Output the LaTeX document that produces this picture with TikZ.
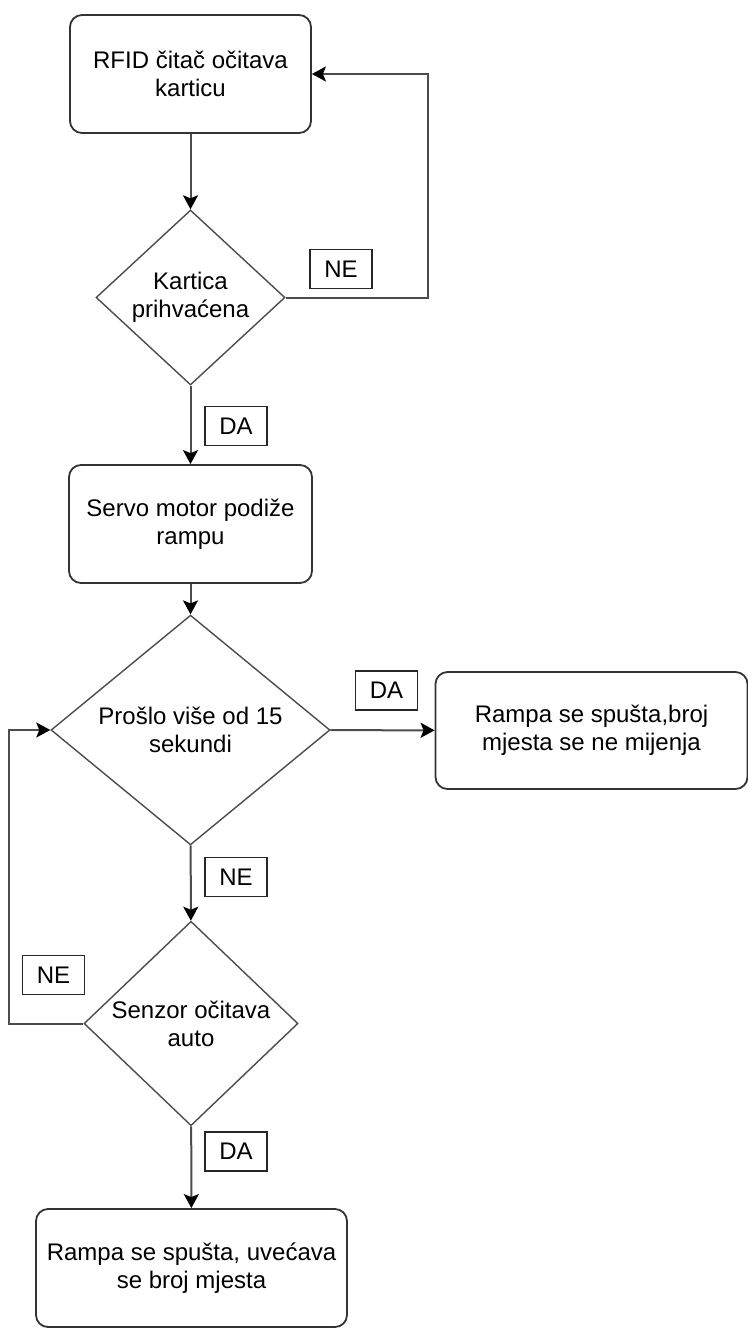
\documentclass[tikz,border=0pt]{standalone}
\usepackage{fontspec}
\setmainfont{Liberation Sans}
\usepackage{tikz}
\usetikzlibrary{positioning}
\usetikzlibrary{shapes.geometric}
\usetikzlibrary{arrows.meta}
\usepackage{xcolor}

\begin{document}
\begin{tikzpicture}[x=0.5pt, y=-0.5pt,
  font=\fontsize{12}{14}\selectfont,
  korak/.style={draw=black!80, line width=0.9pt, rounded corners=6pt, align=center, inner sep=0pt},
  odluka/.style={draw=black!70, line width=0.7pt, diamond, align=center, inner sep=0pt},
  oznaka/.style={draw=black!85, line width=0.9pt, minimum width=31pt, minimum height=19.5pt, inner sep=0pt},
  veza/.style={draw=black!70, line width=1pt, -{Stealth[length=7pt, width=7.5pt, inset=1.5pt, black]}}]

\useasboundingbox (0,0) rectangle (748,1328);

%\draw[gray,very thin, step=50, opacity=0.5] (0,0) grid (748,1328);

% koraci
\node[korak, minimum width=120.5pt, minimum height=59pt] (rfid) at (190.5,74) {RFID čitač očitava\\karticu};
\node[korak, minimum width=121.5pt, minimum height=59pt] (servo) at (190.5,524) {Servo motor podiže\\rampu};
\node[korak, minimum width=156pt, minimum height=58.5pt] (spusta) at (591.5,730.5) {Rampa se spušta,broj\\mjesta se ne mijenja};
\node[korak, minimum width=155.5pt, minimum height=59pt] (uvecava) at (191.5,1268) {Rampa se spušta, uvećava\\se broj mjesta};

% odluke
\node[odluka, minimum width=94.5pt, minimum height=87.5pt] (kartica) at (190.5,297.5) {Kartica\\prihvaćena};
\node[odluka, minimum width=139.5pt, minimum height=97pt] (proslo) at (190.5,730) {Prošlo više od 15\\sekundi};
\node[odluka, minimum width=107pt, minimum height=87pt] (senzor) at (191,1023.5) {Senzor očitava\\auto};

% veze
\draw[veza] (rfid) -- (kartica);
\draw[veza] (kartica) -- (servo);
\draw[veza] (servo) -- (proslo);
\draw[veza] (proslo) -- (spusta);
\draw[veza] (proslo) -- (senzor);
\draw[veza] (senzor) -- (uvecava);
\draw[veza] (kartica.east) -- ++(142,0) |- (rfid.east);
\draw[veza] (senzor.west) -- ++(-74,0) |- (proslo.west);

% DA / NE
\node[oznaka] (ne1) at (341,269) {NE};
\node[oznaka] (da1) at (236,426) {DA};
\node[oznaka] (da2) at (386.5,690.5) {DA};
\node[oznaka] (ne2) at (236,877) {NE};
\node[oznaka] (ne3) at (53.5,975) {NE};
\node[oznaka] (da3) at (236,1151.5) {DA};

\end{tikzpicture}
\end{document}
